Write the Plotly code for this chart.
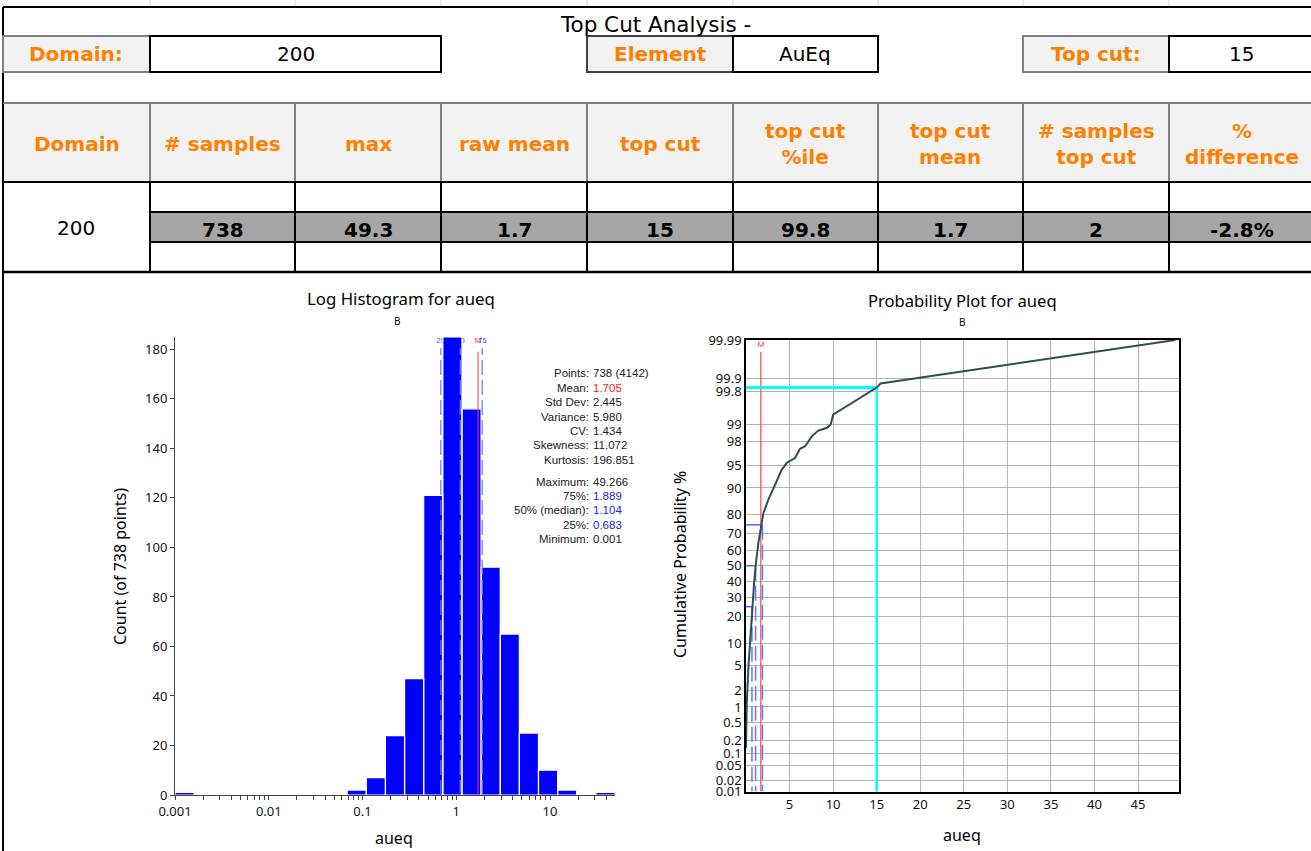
import math
from statistics import NormalDist
import numpy as np
import plotly.graph_objects as go

W, H = 1311, 851

# ---------------- data ----------------
report_title = "Top Cut Analysis -"
domain_label = "Domain:"
domain_value = "200"
element_label = "Element"
element_value = "AuEq"
topcut_label = "Top cut:"
topcut_value = "15"

table_headers = ["Domain", "# samples", "max", "raw mean", "top cut",
                 "top cut<br>%ile", "top cut<br>mean", "# samples<br>top cut",
                 "%<br>difference"]
table_domain = "200"
table_values = ["738", "49.3", "1.7", "15", "99.8", "1.7", "2", "-2.8%"]

hist_title = "Log Histogram for aueq"
prob_title = "Probability Plot for aueq"
sub_title = "B"
x_title = "aueq"
hist_y_title = "Count (of 738 points)"
prob_y_title = "Cumulative Probability %"

hist_min = 0.001
hist_max = 49.266
hist_counts = [1, 0, 0, 0, 0, 0, 0, 0, 0, 2, 7, 24, 47, 121, 185, 156, 92, 65, 25, 10, 2, 0, 1]
hist_ticks = [0.001, 0.01, 0.1, 1, 10]
hist_tick_labels = ["0.001", "0.01", "0.1", "1", "10"]

stat_labels = ["Points:", "Mean:", "Std Dev:", "Variance:", "CV:", "Skewness:", "Kurtosis:",
               "Maximum:", "75%:", "50% (median):", "25%:", "Minimum:"]
stat_values = ["738 (4142)", "1.705", "2.445", "5.980", "1.434", "11.072", "196.851",
               "49.266", "1.889", "1.104", "0.683", "0.001"]
stat_colors = ["#222222", "#ff2020", "#222222", "#222222", "#222222", "#222222", "#222222",
               "#222222", "#2020ff", "#2020ff", "#2020ff", "#222222"]

q_pcts = [25, 50, 75]
q_vals = [0.683, 1.104, 1.889]
q_labels = ["25", "50", "75"]
mean_val = 1.705

prob_ticks = [0.01, 0.02, 0.05, 0.1, 0.2, 0.5, 1, 2, 5, 10, 20, 30, 40, 50, 60, 70, 80,
              90, 95, 98, 99, 99.8, 99.9, 99.99]
prob_tick_labels = ["0.01", "0.02", "0.05", "0.1", "0.2", "0.5", "1", "2", "5", "10", "20",
                    "30", "40", "50", "60", "70", "80", "90", "95", "98", "99", "99.8",
                    "99.9", "99.99"]
prob_x_ticks = [5, 10, 15, 20, 25, 30, 35, 40, 45]

curve_x = [0.001, 0.09, 0.28, 0.47, 0.683, 0.93, 1.104, 1.42, 1.81, 2.0, 2.57, 3.53, 4.1,
           4.68, 5.63, 6.2, 6.78, 7.55, 8.3, 9.3, 9.72, 10.0, 12.5, 15.0, 15.45, 49.266]
curve_pct = [0.135, 1.2, 4.8, 11.0, 25.0, 38.7, 50.0, 64.6, 76.0, 80.8, 86.2, 91.8, 94.3,
             95.5, 96.2, 97.3, 97.55, 98.35, 98.7, 98.85, 99.0, 99.36, 99.66, 99.834,
             99.866, 99.99]
top_cut = 15
top_cut_pct = 99.834

# ---------------- helpers ----------------
def px(x):
    return x / W

def py(y):
    return 1 - y / H

nd = NormalDist()

def z(p):
    return nd.inv_cdf(p / 100.0)

ORANGE = "#ff8000"
TFONT = "DejaVu Sans"
CFONT = "Noto Sans"

fig = go.Figure()
shapes = []
annotations = []

def line(x0, y0, x1, y1, color="black", width=2):
    shapes.append(dict(type="line", xref="paper", yref="paper",
                       x0=px(x0), y0=py(y0), x1=px(x1), y1=py(y1),
                       line=dict(color=color, width=width)))

def rect(x0, y0, x1, y1, fill="white", color="black", width=2):
    shapes.append(dict(type="rect", xref="paper", yref="paper",
                       x0=px(x0), y0=py(y0), x1=px(x1), y1=py(y1),
                       fillcolor=fill, line=dict(color=color, width=width)))

def text(x, y, s, size=20, color="black", bold=False, family=TFONT, angle=0, xanchor="center"):
    annotations.append(dict(xref="paper", yref="paper", x=px(x), y=py(y), text=s,
                            showarrow=False, xanchor=xanchor, yanchor="middle",
                            textangle=angle, borderpad=0,
                            font=dict(family=family, size=size, color=color,
                                      weight="bold" if bold else "normal")))

# ---------------- table ----------------
col_x = [3, 150, 295, 441, 587, 733, 878, 1023, 1169, 1314]

for cx in col_x[1:-1]:
    line(cx, 0, cx, 6, color="#d0d0d0", width=1)
line(3, 7, 1311, 7, width=2)
line(3, 7, 3, 851, width=2)

text(655, 24, report_title, size=21.5)

rect(3, 36, 150, 72, fill="#f2f2f2", color="#808080")
rect(150, 36, 441, 72, fill="white", color="black")
rect(587, 36, 733, 72, fill="#f2f2f2", color="#404040")
rect(733, 36, 878, 72, fill="white", color="black")
rect(1023, 36, 1169, 72, fill="#f2f2f2", color="#808080")
rect(1169, 36, 1320, 72, fill="white", color="black")
text(76, 54, domain_label, color=ORANGE, bold=True)
text(296, 54, domain_value)
text(660, 54, element_label, color=ORANGE, bold=True)
text(805, 54, element_value)
text(1096, 54, topcut_label, color=ORANGE, bold=True)
text(1241, 54, topcut_value)

line(3, 103, 1311, 103, color="#808080", width=2)
rect(4, 104, 1311, 181, fill="#f2f2f2", color="#f2f2f2", width=0)
for cx in col_x[1:-1]:
    line(cx, 103, cx, 182, color="#808080", width=2)
for i, h in enumerate(table_headers):
    text((col_x[i] + col_x[i + 1]) / 2, 144, h, color=ORANGE, bold=True)

rect(150, 212, 1320, 242, fill="#a6a6a6", color="black", width=2)
line(3, 182, 1311, 182, width=2)
for cx in col_x[1:-1]:
    line(cx, 182, cx, 272, width=2)
line(3, 272, 1311, 272, width=2.5)
text(76, 228, table_domain)
for i, v in enumerate(table_values):
    text((col_x[i + 1] + col_x[i + 2]) / 2, 230, v, bold=True)

# ---------------- histogram ----------------
log_edges = np.linspace(math.log10(hist_min), math.log10(hist_max), len(hist_counts) + 1)
edges = 10 ** log_edges

# percentile labels (behind bars)
fig.add_trace(go.Scatter(
    x=[q_vals[0], q_vals[1], mean_val, q_vals[2]], y=[183.3] * 4,
    text=[q_labels[0], q_labels[1], "M", q_labels[2]], mode="text",
    textfont=dict(family="Liberation Sans", size=8,
                  color=["#4060ff", "#4060ff", "#ff3030", "#4060ff"]),
    xaxis="x", yaxis="y", hoverinfo="skip"))

bx, by = [], []
for i, c in enumerate(hist_counts):
    if c <= 0:
        continue
    bx += [edges[i], edges[i], edges[i + 1], edges[i + 1], edges[i], None]
    by += [0, c, c, 0, 0, None]
fig.add_trace(go.Scatter(x=bx, y=by, fill="toself", fillcolor="#0000ff", mode="lines",
                         line=dict(color="white", width=1.2), xaxis="x", yaxis="y",
                         hoverinfo="skip"))

for v in q_vals:
    fig.add_trace(go.Scatter(x=[v, v], y=[0, 180.5], mode="lines",
                             line=dict(color="rgba(100,130,255,0.85)", width=1.5, dash="15px,5px"),
                             xaxis="x", yaxis="y", hoverinfo="skip"))
fig.add_trace(go.Scatter(x=[mean_val, mean_val], y=[0, 179], mode="lines",
                         line=dict(color="rgba(255,60,60,0.65)", width=1.5),
                         xaxis="x", yaxis="y", hoverinfo="skip"))

minor_vals = [k * 10 ** d for d in range(-3, 2) for k in range(2, 10) if k * 10 ** d <= hist_max]

# stats text
for i, (lab, val, col) in enumerate(zip(stat_labels, stat_values, stat_colors)):
    yy = 373.3 + i * 14.4 + (7.5 if i >= 7 else 0)
    text(590, yy, lab, size=11.5, color="#222222", family="Liberation Sans", xanchor="right")
    text(592, yy, val, size=11.5, color=col, family="Liberation Sans", xanchor="left")

# ---------------- probability plot ----------------
zmin, zmax = z(0.01), z(99.99)

fig.add_trace(go.Scatter(x=[mean_val, mean_val], y=[zmin, 3.52], mode="lines",
                         line=dict(color="#ff4040", width=1.2),
                         xaxis="x2", yaxis="y2", hoverinfo="skip"))
for p, v in zip(q_pcts, q_vals):
    fig.add_trace(go.Scatter(x=[0, v], y=[z(p), z(p)], mode="lines",
                             line=dict(color="#4a6cff", width=1.5),
                             xaxis="x2", yaxis="y2", hoverinfo="skip"))
    fig.add_trace(go.Scatter(x=[v, v], y=[z(p), zmin], mode="lines",
                             line=dict(color="#5a7cff", width=1.5, dash="15px,5px"),
                             xaxis="x2", yaxis="y2", hoverinfo="skip"))

fig.add_trace(go.Scatter(x=[0, top_cut], y=[z(top_cut_pct)] * 2, mode="lines",
                         line=dict(color="#00ffff", width=3),
                         xaxis="x2", yaxis="y2", hoverinfo="skip"))
fig.add_trace(go.Scatter(x=[top_cut, top_cut], y=[z(top_cut_pct), zmin], mode="lines",
                         line=dict(color="#00ffff", width=2.5),
                         xaxis="x2", yaxis="y2", hoverinfo="skip"))

fig.add_trace(go.Scatter(x=curve_x, y=[z(p) for p in curve_pct], mode="lines",
                         line=dict(color="#2f4f4f", width=2),
                         xaxis="x2", yaxis="y2", hoverinfo="skip"))

fig.add_trace(go.Scatter(x=[mean_val], y=[3.64], text=["M"], mode="text",
                         textfont=dict(family="Liberation Sans", size=8, color="#ff3030"),
                         xaxis="x2", yaxis="y2", hoverinfo="skip"))

# ---------------- titles ----------------
text(401, 299, hist_title, size=16.8, family=CFONT)
text(397, 321, sub_title, size=10, family=CFONT)
text(394, 838, x_title, size=16, family=CFONT)
text(120, 567, hist_y_title, size=16, family=CFONT, angle=-90)

text(962, 300, prob_title, size=16.6, family=CFONT)
text(962, 322, sub_title, size=10, family=CFONT)
text(962, 835, x_title, size=16, family=CFONT)
text(680, 565, prob_y_title, size=16, family=CFONT, angle=-90)

tickfont = dict(family=CFONT, size=13, color="#111111")

fig.update_layout(
    width=W, height=H, autosize=False,
    margin=dict(l=0, r=0, t=0, b=0, pad=0, autoexpand=False),
    paper_bgcolor="white", plot_bgcolor="white",
    showlegend=False,
    shapes=shapes, annotations=annotations,
    xaxis=dict(domain=[px(175), px(615)], type="log",
               range=[math.log10(hist_min), math.log10(hist_max)],
               tickvals=hist_ticks, ticktext=hist_tick_labels,
               ticks="outside", ticklen=4, tickcolor="#444444",
               minor=dict(tickvals=minor_vals, ticks="outside", ticklen=4, tickcolor="#444444"),
               showline=True, linecolor="#444444", linewidth=1, automargin=False,
               showgrid=False, zeroline=False, tickfont=tickfont, anchor="y"),
    yaxis=dict(domain=[py(795), py(337)], range=[0, 185],
               tickvals=list(range(0, 181, 20)),
               ticks="outside", ticklen=4, tickcolor="#444444",
               showline=True, linecolor="#444444", linewidth=1, automargin=False,
               showgrid=False, zeroline=False, tickfont=tickfont, anchor="x"),
    xaxis2=dict(domain=[px(746), px(1179)], range=[0, 49.7],
                tickvals=prob_x_ticks, ticks="", automargin=False,
                showline=True, mirror=True, linecolor="black", linewidth=1.5,
                showgrid=True, gridcolor="#b4b4b4", gridwidth=1.2,
                zeroline=False, tickfont=tickfont, anchor="y2"),
    yaxis2=dict(domain=[py(791.5), py(340)], range=[zmin, zmax],
                tickvals=[z(p) for p in prob_ticks], ticktext=prob_tick_labels,
                ticks="", showline=True, mirror=True, linecolor="black", linewidth=1.5,
                automargin=False,
                showgrid=True, gridcolor="#b4b4b4", gridwidth=1.2,
                zeroline=False, tickfont=tickfont, anchor="x2"),
)

fig.write_html(
    "out.html",
    post_script="document.body.style.margin='0';document.body.style.overflow='hidden';"
)
